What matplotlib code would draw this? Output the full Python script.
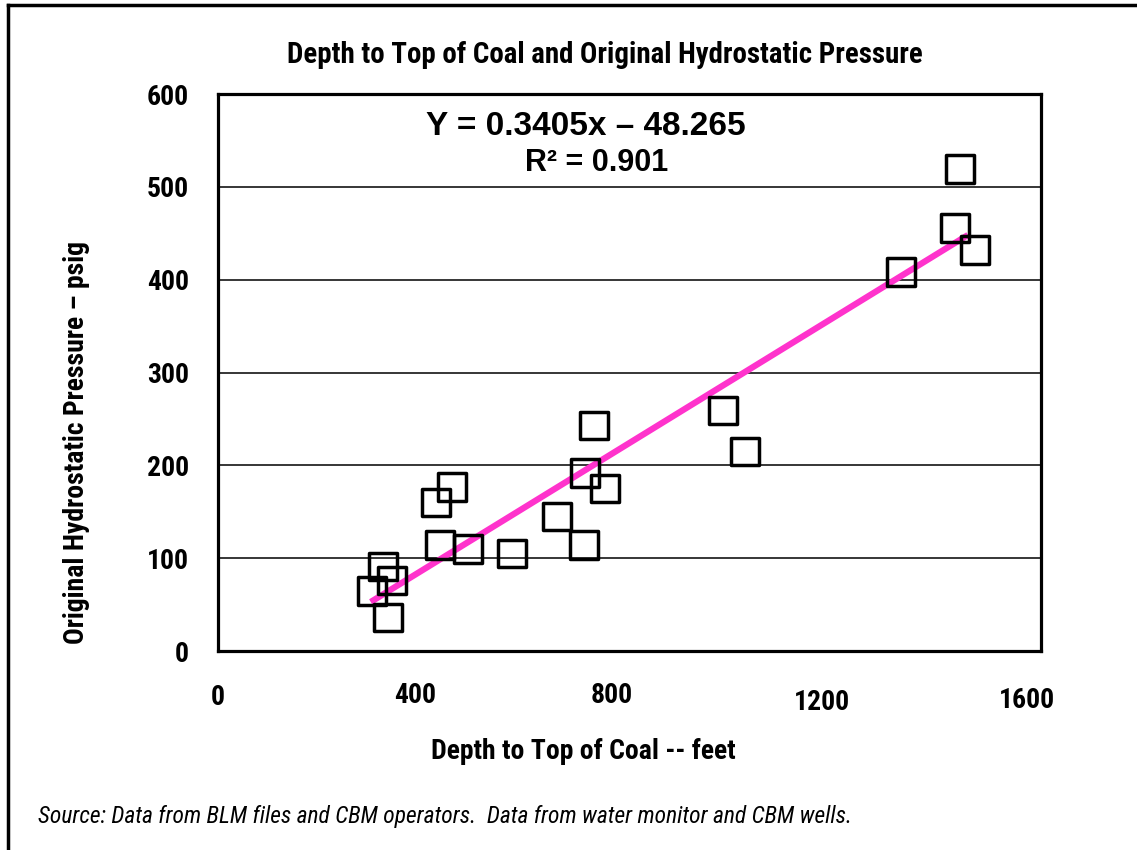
import matplotlib
matplotlib.use("Agg")
import matplotlib.pyplot as plt
from matplotlib import font_manager
from matplotlib.lines import Line2D
from matplotlib.transforms import ScaledTranslation

# Données
depth_ft = [299, 321, 338, 330, 424, 455, 432, 486, 572, 659,
            713, 731, 712, 752, 982, 1025, 1328, 1433, 1443, 1472]
pressure_psig = [65, 91, 76, 36, 160, 177, 114, 110, 105, 145,
                 192, 243, 114, 175, 259, 215, 408, 456, 519, 432]

slope = 0.3405
intercept = -48.265
r_squared = 0.901
trend_range = [297, 1458]

x_ticks = [0, 400, 800, 1200, 1600]
y_ticks = [0, 100, 200, 300, 400, 500, 600]

# Choix d'une police étroite si disponible
installed = {f.name for f in font_manager.fontManager.ttflist}
narrow_name = None
for cand in ['Liberation Sans Narrow', 'Roboto Condensed', 'DejaVu Sans Condensed',
             'Noto Sans Condensed', 'Open Sans Condensed']:
    if cand in installed:
        narrow_name = cand
        break
if narrow_name:
    narrow = [narrow_name, 'DejaVu Sans']
    sz = 20
else:
    narrow = ['Liberation Sans', 'DejaVu Sans']
    sz = 17
wide = ['Liberation Sans', 'DejaVu Sans']

fig = plt.figure(figsize=(11.37, 8.5), dpi=100)
ax = fig.add_axes([0.1917, 0.2341, 0.7239, 0.6553])

# Lignes de grille horizontales
for yv in y_ticks[1:-1]:
    ax.axhline(yv, color='black', lw=1.1, zorder=1)

# Droite de régression
trend_y = [slope * xv + intercept for xv in trend_range]
ax.plot(trend_range, trend_y, color='#ff33cc', lw=4.5, zorder=2, solid_capstyle='butt')

# Points
ax.scatter(depth_ft, pressure_psig, marker='s', s=400, facecolors='none',
           edgecolors='black', linewidths=2.5, zorder=3)

ax.set_xlim(0, 1600)
ax.set_ylim(0, 600)
ax.set_xticks(x_ticks)
ax.set_yticks(y_ticks)
ax.tick_params(length=0)
ax.tick_params(axis='x', pad=24)
ax.tick_params(axis='y', pad=21)
for lab in ax.get_xticklabels() + ax.get_yticklabels():
    lab.set_family(narrow)
    lab.set_fontweight('bold')
    lab.set_fontsize(sz)

# décalages des étiquettes de l'axe x comme sur l'original (pixels)
x_lab_dx = [0, -9, -18, -13, -14]
x_lab_dy = [0, 2, 2, -5, -3]
for lab, dx, dy in zip(ax.get_xticklabels(), x_lab_dx, x_lab_dy):
    lab.set_transform(lab.get_transform() + ScaledTranslation(dx / 100, dy / 100, fig.dpi_scale_trans))

for sp in ax.spines.values():
    sp.set_linewidth(2.3)

fig.text(0.513, 0.116, 'Depth to Top of Coal -- feet', family=narrow, fontweight='bold',
         fontsize=sz, ha='center', va='center')
fig.text(0.067, 0.479, 'Original Hydrostatic Pressure \u2013 psig', family=narrow,
         fontweight='bold', fontsize=sz, rotation=90, ha='center', va='center')

ax.text(0.447, 0.941, 'Y = %.4fx \u2013 %.3f' % (slope, -intercept), transform=ax.transAxes,
        ha='center', va='center', family=wide, fontweight='bold', fontsize=24)
ax.text(0.46, 0.876, 'R\u00b2 = %.3f' % r_squared, transform=ax.transAxes,
        ha='center', va='center', family=wide, fontweight='bold', fontsize=22)

fig.text(0.532, 0.935, 'Depth to Top of Coal and Original Hydrostatic Pressure',
         ha='center', va='center', family=narrow, fontweight='bold', fontsize=sz * 1.04)
fig.text(0.033, 0.039, 'Source: Data from BLM files and CBM operators.  Data from water monitor and CBM wells.',
         ha='left', va='center', family=narrow, style='italic', fontsize=sz * 0.845)

# Cadre extérieur (haut et gauche)
fig.add_artist(Line2D([0.007, 1.0], [0.994, 0.994], transform=fig.transFigure,
                      color='black', lw=2.5))
fig.add_artist(Line2D([0.007, 0.007], [0.0, 0.994], transform=fig.transFigure,
                      color='black', lw=2.5))

fig.savefig('out.png', dpi=100)
